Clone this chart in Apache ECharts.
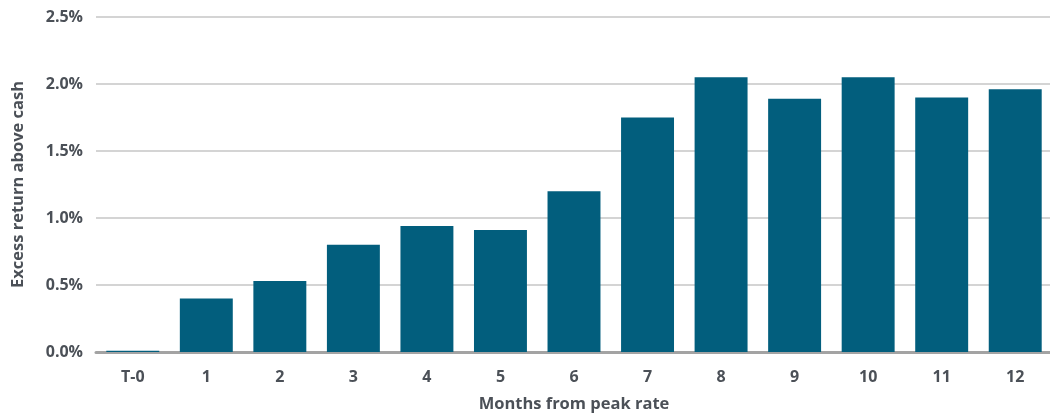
<!DOCTYPE html>
<html>
<head>
<meta charset="utf-8">
<script src="https://cdn.jsdelivr.net/npm/echarts@6/dist/echarts.min.js"></script>
<style>
  html, body { margin: 0; padding: 0; background: #fff; }
  #chart { width: 1050px; height: 413px; }
</style>
</head>
<body>
<div id="chart"></div>
<script>
// Months after the policy-rate peak
const months = ['T-0', '1', '2', '3', '4', '5', '6', '7', '8', '9', '10', '11', '12'];
// Excess return above cash, in percent
const excessReturn = [0.01, 0.40, 0.53, 0.80, 0.94, 0.91, 1.20, 1.75, 2.05, 1.89, 2.05, 1.90, 1.96];
// Y-axis ticks, in percent
const yTicks = [0, 0.5, 1.0, 1.5, 2.0, 2.5];

const textColor = '#4b5057';
const fontFamily = '"Open Sans", Roboto, sans-serif';

const chart = echarts.init(document.getElementById('chart'), null, { renderer: 'canvas' });
chart.setOption({
  animation: false,
  grid: {
    left: 96, top: 17, width: 956, height: 335,
    containLabel: false, outerBoundsMode: 'none'
  },
  xAxis: {
    type: 'category',
    data: months,
    name: 'Months from peak rate',
    nameLocation: 'middle',
    nameGap: 44,
    nameTextStyle: { color: textColor, fontWeight: 'bold', fontSize: 16.5, fontFamily },
    axisLine: { show: true, lineStyle: { color: '#a3a3a3', width: 3 } },
    axisTick: { show: false },
    axisLabel: { color: textColor, fontWeight: 'bold', fontSize: 16, fontFamily, margin: 17 }
  },
  yAxis: {
    type: 'value',
    min: yTicks[0],
    max: yTicks[yTicks.length - 1],
    interval: 0.5,
    name: 'Excess return above cash',
    nameLocation: 'middle',
    nameGap: 69,
    nameTextStyle: { color: textColor, fontWeight: 'bold', fontSize: 16.5, fontFamily },
    axisLine: { show: false },
    axisTick: { show: false },
    axisLabel: {
      color: textColor, fontWeight: 'bold', fontSize: 16, fontFamily, margin: 13,
      formatter: v => v.toFixed(1) + '%'
    },
    splitLine: { lineStyle: { color: '#c6c6c6', width: 1.5 } }
  },
  series: [{
    type: 'bar',
    data: excessReturn,
    barCategoryGap: '28%',
    itemStyle: { color: '#025e7d' }
  }]
});
</script>
</body>
</html>
